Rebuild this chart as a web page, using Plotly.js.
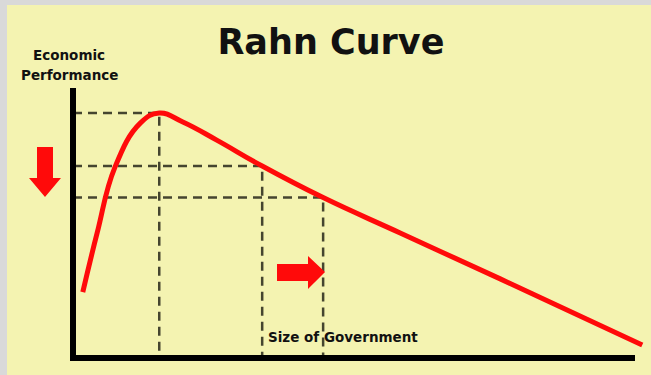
<!DOCTYPE html>
<html>
<head>
<meta charset="utf-8">
<script src="https://cdn.plot.ly/plotly-3.0.1.min.js"></script>
<style>
  html, body { margin:0; padding:0; background:#d9d9d9; width:651px; height:375px; overflow:hidden; }
  #chart { position:absolute; left:7px; top:5px; width:644px; height:370px; }
</style>
</head>
<body>
<div id="chart"></div>
<script>
// Rahn curve: size of government (x) vs economic performance (y), arbitrary units 0-100
const govSize     = [1.7, 4.2, 7.3, 11.7, 15.0, 19.1, 25.0, 32.9, 43.5, 56.9, 74.3, 99.0];
const performance = [24.4, 46.3, 70.7, 87.0, 90.7, 87.4, 80.7, 71.1, 59.4, 46.3, 29.3, 4.8];

// reference points marked by dashed guide lines
const markSize = [15.0, 32.9, 43.5];
const markPerf = [90.7, 71.1, 59.4];

const titleText = "Rahn Curve";
const yLabel1 = "Economic";
const yLabel2 = "Performance";
const xLabel = "Size of Government";

// plot-area geometry (page pixels) used only for decorations
const L = 73, R = 648, T = 88, B = 358;
const px = x => (x - L) / (R - L);
const py = y => (B - y) / (B - T);
function path(pts) {
  return pts.map((p, i) => (i ? 'L' : 'M') + px(p[0]).toFixed(4) + ',' + py(p[1]).toFixed(4)).join(' ') + ' Z';
}

const traces = [];
markSize.forEach((mx, i) => {
  traces.push({
    x: [0, mx, mx], y: [markPerf[i], markPerf[i], 0],
    mode: 'lines', hoverinfo: 'skip', showlegend: false,
    line: { color: '#45452f', width: 2.5, dash: '9px,6px' }
  });
});
traces.push({
  x: govSize, y: performance, mode: 'lines', showlegend: false,
  line: { color: '#ff0a0a', width: 5, shape: 'spline', smoothing: 1.25 }
});

const red = '#ff0a0a';
const layout = {
  width: 644, height: 370,
  margin: { l: 66, r: 3, t: 83, b: 17 },
  paper_bgcolor: '#f4f3b1', plot_bgcolor: 'rgba(0,0,0,0)',
  title: { text: titleText, x: 0.503, xanchor: 'center', y: 0.9, yanchor: 'middle',
           font: { family: 'DejaVu Sans', size: 35, color: '#111', weight: 'bold' } },
  xaxis: { range: [0, 100], showgrid: false, zeroline: false, showticklabels: false, showline: false, fixedrange: true },
  yaxis: { range: [0, 100], showgrid: false, zeroline: false, showticklabels: false, showline: false, fixedrange: true },
  shapes: [
    { type: 'line', xref: 'paper', yref: 'paper', x0: 0, x1: 0, y0: py(361), y1: 1, line: { color: '#000', width: 6 } },
    { type: 'line', xref: 'paper', yref: 'paper', x0: px(70), x1: px(635), y0: 0, y1: 0, line: { color: '#000', width: 6 } },
    // down arrow
    { type: 'path', xref: 'paper', yref: 'paper', fillcolor: red, line: { width: 0 },
      path: path([[37,147],[53,147],[53,178],[61,178],[45,197],[29,178],[37,178]]) },
    // right arrow
    { type: 'path', xref: 'paper', yref: 'paper', fillcolor: red, line: { width: 0 },
      path: path([[277,264],[308,264],[308,256],[325,272],[308,289],[308,281],[277,281]]) }
  ],
  annotations: [
    { text: yLabel1, xref: 'paper', yref: 'paper', x: px(69), y: py(55), xanchor: 'center', yanchor: 'middle', showarrow: false,
      font: { family: 'DejaVu Sans', size: 13.5, color: '#111', weight: 'bold' } },
    { text: yLabel2, xref: 'paper', yref: 'paper', x: px(69), y: py(75), xanchor: 'center', yanchor: 'middle', showarrow: false,
      font: { family: 'DejaVu Sans', size: 13.5, color: '#111', weight: 'bold' } },
    { text: xLabel, xref: 'paper', yref: 'paper', x: px(266), y: py(337), xanchor: 'left', yanchor: 'middle', showarrow: false,
      font: { family: 'DejaVu Sans', size: 13.5, color: '#111', weight: 'bold' } }
  ]
};

Plotly.newPlot('chart', traces, layout, { staticPlot: true, displayModeBar: false });
</script>
</body>
</html>
